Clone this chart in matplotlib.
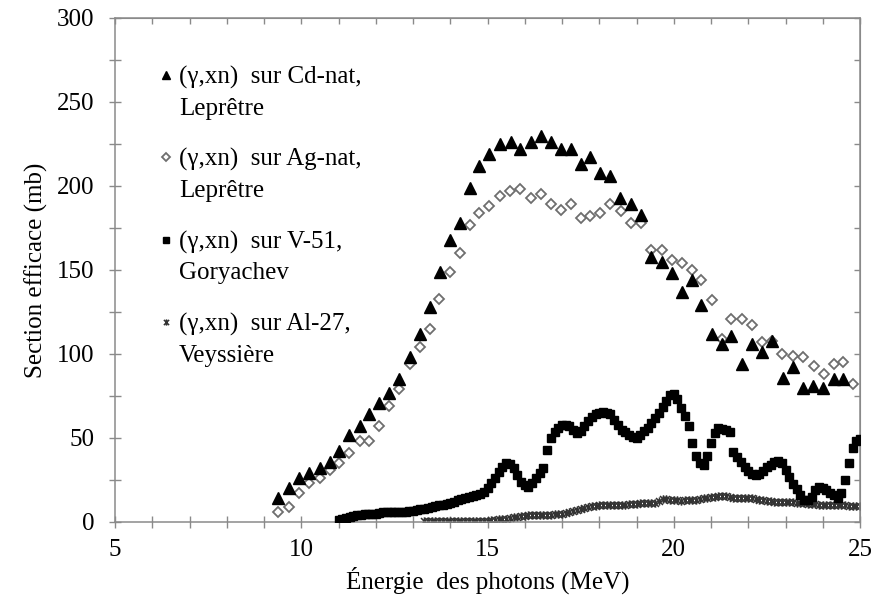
import matplotlib
matplotlib.use("Agg")
import matplotlib.pyplot as plt
import numpy as np
from matplotlib.path import Path
from matplotlib.ticker import MultipleLocator
from matplotlib.legend_handler import HandlerLine2D

# --- (gamma,xn) cross sections ---------------------------------------------
cd_energy = [9.37, 9.66, 9.93, 10.2, 10.49, 10.76, 11.02, 11.29, 11.58, 11.81,
             12.08, 12.36, 12.63, 12.91, 13.18, 13.45, 13.72, 14.0, 14.26, 14.53,
             14.77, 15.04, 15.33, 15.62, 15.88, 16.16, 16.44, 16.71, 16.98, 17.24,
             17.51, 17.76, 18.03, 18.3, 18.57, 18.85, 19.12, 19.39, 19.68, 19.95,
             20.22, 20.5, 20.73, 21.02, 21.3, 21.55, 21.82, 22.09, 22.36, 22.64,
             22.92, 23.21, 23.47, 23.74, 24.02, 24.29, 24.54]
cd_sigma = [14, 20, 26, 29, 32, 36, 42, 52, 57, 64,
            71, 77, 85, 98, 112, 128, 149, 168, 178, 199,
            212, 219, 225, 226, 222, 226, 230, 226, 222, 222,
            213, 217, 208, 206, 193, 189, 183, 158, 155, 148,
            137, 144, 129, 112, 106, 111, 94, 106, 101, 108,
            86, 92, 80, 81, 80, 85, 85]

ag_energy = [9.37, 9.66, 9.93, 10.2, 10.49, 10.76, 11.02, 11.29, 11.58, 11.81,
             12.08, 12.36, 12.63, 12.91, 13.18, 13.45, 13.7, 14.0, 14.26, 14.53,
             14.77, 15.04, 15.33, 15.6, 15.87, 16.16, 16.44, 16.71, 16.98, 17.24,
             17.51, 17.76, 18.03, 18.3, 18.58, 18.85, 19.12, 19.39, 19.68, 19.95,
             20.22, 20.5, 20.73, 21.02, 21.3, 21.55, 21.84, 22.09, 22.36, 22.63,
             22.91, 23.21, 23.47, 23.76, 24.03, 24.29, 24.54, 24.81]
ag_sigma = [6, 9, 17, 23, 26, 31, 35, 41, 48, 48,
            57, 69, 79, 94, 104, 115, 133, 149, 160, 177,
            184, 188, 194, 197, 198, 193, 195, 189, 186, 189,
            181, 182, 184, 189, 185, 178, 178, 162, 162, 156,
            154, 150, 144, 132, 109, 121, 121, 117, 107, 108,
            100, 99, 98, 93, 88, 94, 95, 82]

v_energy = [11.0, 11.1, 11.2, 11.3, 11.4, 11.5, 11.6, 11.7, 11.8, 11.9,
            12.0, 12.1, 12.2, 12.3, 12.4, 12.5, 12.6, 12.7, 12.8, 12.9,
            13.0, 13.1, 13.2, 13.3, 13.4, 13.5, 13.6, 13.7, 13.8, 13.9,
            14.0, 14.1, 14.2, 14.3, 14.4, 14.5, 14.6, 14.7, 14.8, 14.9,
            15.0, 15.1, 15.2, 15.3, 15.4, 15.5, 15.6, 15.7, 15.8, 15.9,
            16.0, 16.1, 16.2, 16.3, 16.4, 16.5, 16.6, 16.7, 16.8, 16.9,
            17.0, 17.1, 17.2, 17.3, 17.4, 17.5, 17.6, 17.7, 17.8, 17.9,
            18.0, 18.1, 18.2, 18.3, 18.4, 18.5, 18.6, 18.7, 18.8, 18.9,
            19.0, 19.1, 19.2, 19.3, 19.4, 19.5, 19.6, 19.7, 19.8, 19.9,
            20.0, 20.1, 20.2, 20.3, 20.4, 20.5, 20.6, 20.7, 20.8, 20.9,
            21.0, 21.1, 21.2, 21.3, 21.4, 21.5, 21.6, 21.7, 21.8, 21.9,
            22.0, 22.1, 22.2, 22.3, 22.4, 22.5, 22.6, 22.7, 22.8, 22.9,
            23.0, 23.1, 23.2, 23.3, 23.4, 23.5, 23.6, 23.7, 23.8, 23.9,
            24.0, 24.1, 24.2, 24.3, 24.4, 24.5, 24.6, 24.7, 24.8, 24.9,
            25.0]
v_sigma = [1.0, 2.0, 2.5, 3.2, 3.8, 4.2, 4.4, 4.5, 4.6, 4.6,
           4.8, 5.3, 5.9, 6.1, 6.2, 6.2, 6.2, 6.2, 6.2, 6.3,
           6.5, 7.0, 7.5, 8.0, 8.5, 9.0, 9.5, 10.0, 10.3, 11.0,
           11.6, 12.2, 12.8, 13.4, 14.0, 14.6, 15.2, 15.8, 16.8, 18.0,
           20.0, 23.0, 26.0, 29.5, 33.0, 35.0, 34.5, 32.0, 28.0, 24.0,
           22.0, 21.0, 23.0, 26.0, 29.0, 32.0, 43.0, 50.0, 53.5, 56.0,
           57.5, 58.0, 57.0, 55.0, 53.0, 54.0, 57.0, 60.0, 62.5, 64.0,
           65.0, 65.3, 65.0, 64.0, 61.0, 57.5, 55.0, 53.5, 52.0, 50.5,
           50.0, 52.0, 54.0, 56.0, 59.0, 62.0, 65.0, 68.5, 72.0, 75.5,
           76.0, 73.0, 68.0, 63.0, 57.0, 47.0, 39.0, 35.0, 34.0, 39.0,
           47.0, 53.0, 56.0, 55.5, 54.5, 53.5, 41.5, 38.5, 35.5, 33.0,
           30.5, 28.5, 28.0, 28.5, 30.5, 32.5, 34.0, 35.5, 36.5, 35.0,
           31.0, 26.5, 22.5, 19.5, 16.0, 13.0, 13.0, 15.0, 19.0, 21.0,
           20.5, 19.0, 17.0, 16.0, 14.5, 17.0, 25.0, 35.0, 44.0, 48.5,
           49.5]

al_energy = [13.3, 13.4, 13.5, 13.6, 13.7, 13.8, 13.9,
             14.0, 14.1, 14.2, 14.3, 14.4, 14.5, 14.6, 14.7, 14.8, 14.9,
             15.0, 15.1, 15.2, 15.3, 15.4, 15.5, 15.6, 15.7, 15.8, 15.9,
             16.0, 16.1, 16.2, 16.3, 16.4, 16.5, 16.6, 16.7, 16.8, 16.9,
             17.0, 17.1, 17.2, 17.3, 17.4, 17.5, 17.6, 17.7, 17.8, 17.9,
             18.0, 18.1, 18.2, 18.3, 18.4, 18.5, 18.6, 18.7, 18.8, 18.9,
             19.0, 19.1, 19.2, 19.3, 19.4, 19.5, 19.6, 19.7, 19.8, 19.9,
             20.0, 20.1, 20.2, 20.3, 20.4, 20.5, 20.6, 20.7, 20.8, 20.9,
             21.0, 21.1, 21.2, 21.3, 21.4, 21.5, 21.6, 21.7, 21.8, 21.9,
             22.0, 22.1, 22.2, 22.3, 22.4, 22.5, 22.6, 22.7, 22.8, 22.9,
             23.0, 23.1, 23.2, 23.3, 23.4, 23.5, 23.6, 23.7, 23.8, 23.9,
             24.0, 24.1, 24.2, 24.3, 24.4, 24.5, 24.6, 24.7, 24.8, 24.9,
             25.0]
al_sigma = [0.3, 0.3, 0.3, 0.3, 0.3, 0.3, 0.3,
            0.3, 0.3, 0.3, 0.3, 0.3, 0.3, 0.3, 0.3, 0.3, 0.5,
            0.8, 1.0, 1.3, 1.6, 1.8, 2.0, 2.3, 2.7, 3.1, 3.4,
            3.7, 4.0, 4.2, 4.2, 4.2, 4.2, 4.2, 4.3, 4.5, 4.7,
            4.9, 5.3, 5.8, 6.3, 6.9, 7.5, 8.2, 9.0, 9.5, 9.8,
            10.0, 10.1, 10.1, 10.1, 10.1, 10.1, 10.2, 10.4, 10.6, 10.8,
            11.0, 11.1, 11.2, 11.3, 11.4, 11.6, 12.5, 13.8, 13.8, 13.3,
            13.0, 12.8, 12.7, 12.8, 12.9, 13.0, 13.2, 13.6, 14.0, 14.4,
            14.7, 15.0, 15.3, 15.5, 15.5, 15.0, 14.3, 14.0, 14.0, 14.1,
            14.1, 14.0, 13.7, 13.3, 13.0, 12.7, 12.4, 12.2, 12.1, 12.1,
            12.1, 12.0, 11.8, 11.5, 11.3, 11.1, 10.9, 10.7, 10.5, 10.2,
            10.1, 10.1, 10.1, 10.1, 10.1, 10.0, 9.9, 9.8, 9.7, 9.6,
            9.5]

series_labels = ["(\u03b3,xn)  sur Cd-nat,\nLepr\u00eatre",
                 "(\u03b3,xn)  sur Ag-nat,\nLepr\u00eatre",
                 "(\u03b3,xn)  sur V-51,\nGoryachev",
                 "(\u03b3,xn)  sur Al-27,\nVeyssi\u00e8re"]
x_ticks = [5, 10, 15, 20, 25]
y_ticks = [0, 50, 100, 150, 200, 250, 300]

# --- style -------------------------------------------------------------------
plt.rcParams["font.family"] = ["Liberation Serif", "DejaVu Serif"]
plt.rcParams["font.size"] = 18
axis_grey = "#8a8a8a"

# Excel-like "star" marker: an x with a vertical bar
star_path = Path([(-1, -1), (1, 1), (-1, 1), (1, -1), (0, -1.2), (0, 1.2)],
                 [Path.MOVETO, Path.LINETO, Path.MOVETO, Path.LINETO,
                  Path.MOVETO, Path.LINETO])


class FirstLineHandler(HandlerLine2D):
    """Legend key aligned with the first line of a two-line label."""

    def __init__(self, lift=0.7, **kw):
        super().__init__(**kw)
        self.lift = lift

    def create_artists(self, legend, orig_handle, xdescent, ydescent,
                       width, height, fontsize, trans):
        arts = super().create_artists(legend, orig_handle, xdescent, ydescent,
                                      width, height, fontsize, trans)
        for a in arts:
            a.set_ydata(np.asarray(a.get_ydata(), float) + self.lift * fontsize)
        return arts


fig = plt.figure(figsize=(8.75, 6.03), dpi=100)
ax = fig.add_axes([115 / 875, 1 - 522 / 603, (860 - 115) / 875, (522 - 18) / 603])

ax.plot(cd_energy, cd_sigma, ls="none", marker="^", ms=8, color="black",
        label=series_labels[0], zorder=4)
ax.plot(ag_energy, ag_sigma, ls="none", marker="D", ms=5, mfc="white",
        mec="#6e6e6e", mew=1.3, label=series_labels[1], zorder=3)
ax.plot(v_energy, v_sigma, ls="none", marker="s", ms=5.2, color="black",
        label=series_labels[2], zorder=3)
ax.plot(al_energy, al_sigma, ls="none", marker=star_path, ms=6,
        mfc="none", mec="#333333", mew=1.1, label=series_labels[3], zorder=2)

ax.set_xlim(5, 25)
ax.set_ylim(0, 300)
ax.set_xticks(x_ticks)
ax.set_yticks(y_ticks)
ax.xaxis.set_minor_locator(MultipleLocator(1))
ax.yaxis.set_minor_locator(MultipleLocator(25))

for s in ax.spines.values():
    s.set_color(axis_grey)
    s.set_linewidth(1.1)

ax.tick_params(which="both", direction="inout", length=8, width=1.0,
               color=axis_grey, top=False, right=False)
ax.tick_params(axis="y", which="major", pad=11)
ax.tick_params(axis="x", which="major", pad=8)

# inward ticks along the top and right edges of the frame
top = ax.secondary_xaxis("top")
top.set_xticks(np.arange(5, 26, 1))
top.tick_params(direction="in", length=4, width=1.0, color=axis_grey,
                labeltop=False)
top.spines["top"].set_color(axis_grey)
right = ax.secondary_yaxis("right")
right.set_yticks(np.arange(0, 301, 25))
right.tick_params(direction="in", length=4, width=1.0, color=axis_grey,
                  labelright=False)
right.spines["right"].set_color(axis_grey)

ax.set_xlabel("\u00c9nergie  des photons (MeV)", labelpad=4)
ax.set_ylabel("Section efficace (mb)", labelpad=6)

handles, labels = ax.get_legend_handles_labels()
leg = ax.legend(handles, labels, loc="upper left",
                bbox_to_anchor=(160 / 875, 1 - 66 / 603),
                bbox_transform=fig.transFigure, frameon=False,
                handlelength=0.5, handletextpad=0.25, labelspacing=1.15,
                borderpad=0, borderaxespad=0, markerscale=0.75,
                handler_map={h: FirstLineHandler() for h in handles})
for t in leg.get_texts():
    t.set_linespacing(1.5)

fig.savefig("out.png", dpi=100)
